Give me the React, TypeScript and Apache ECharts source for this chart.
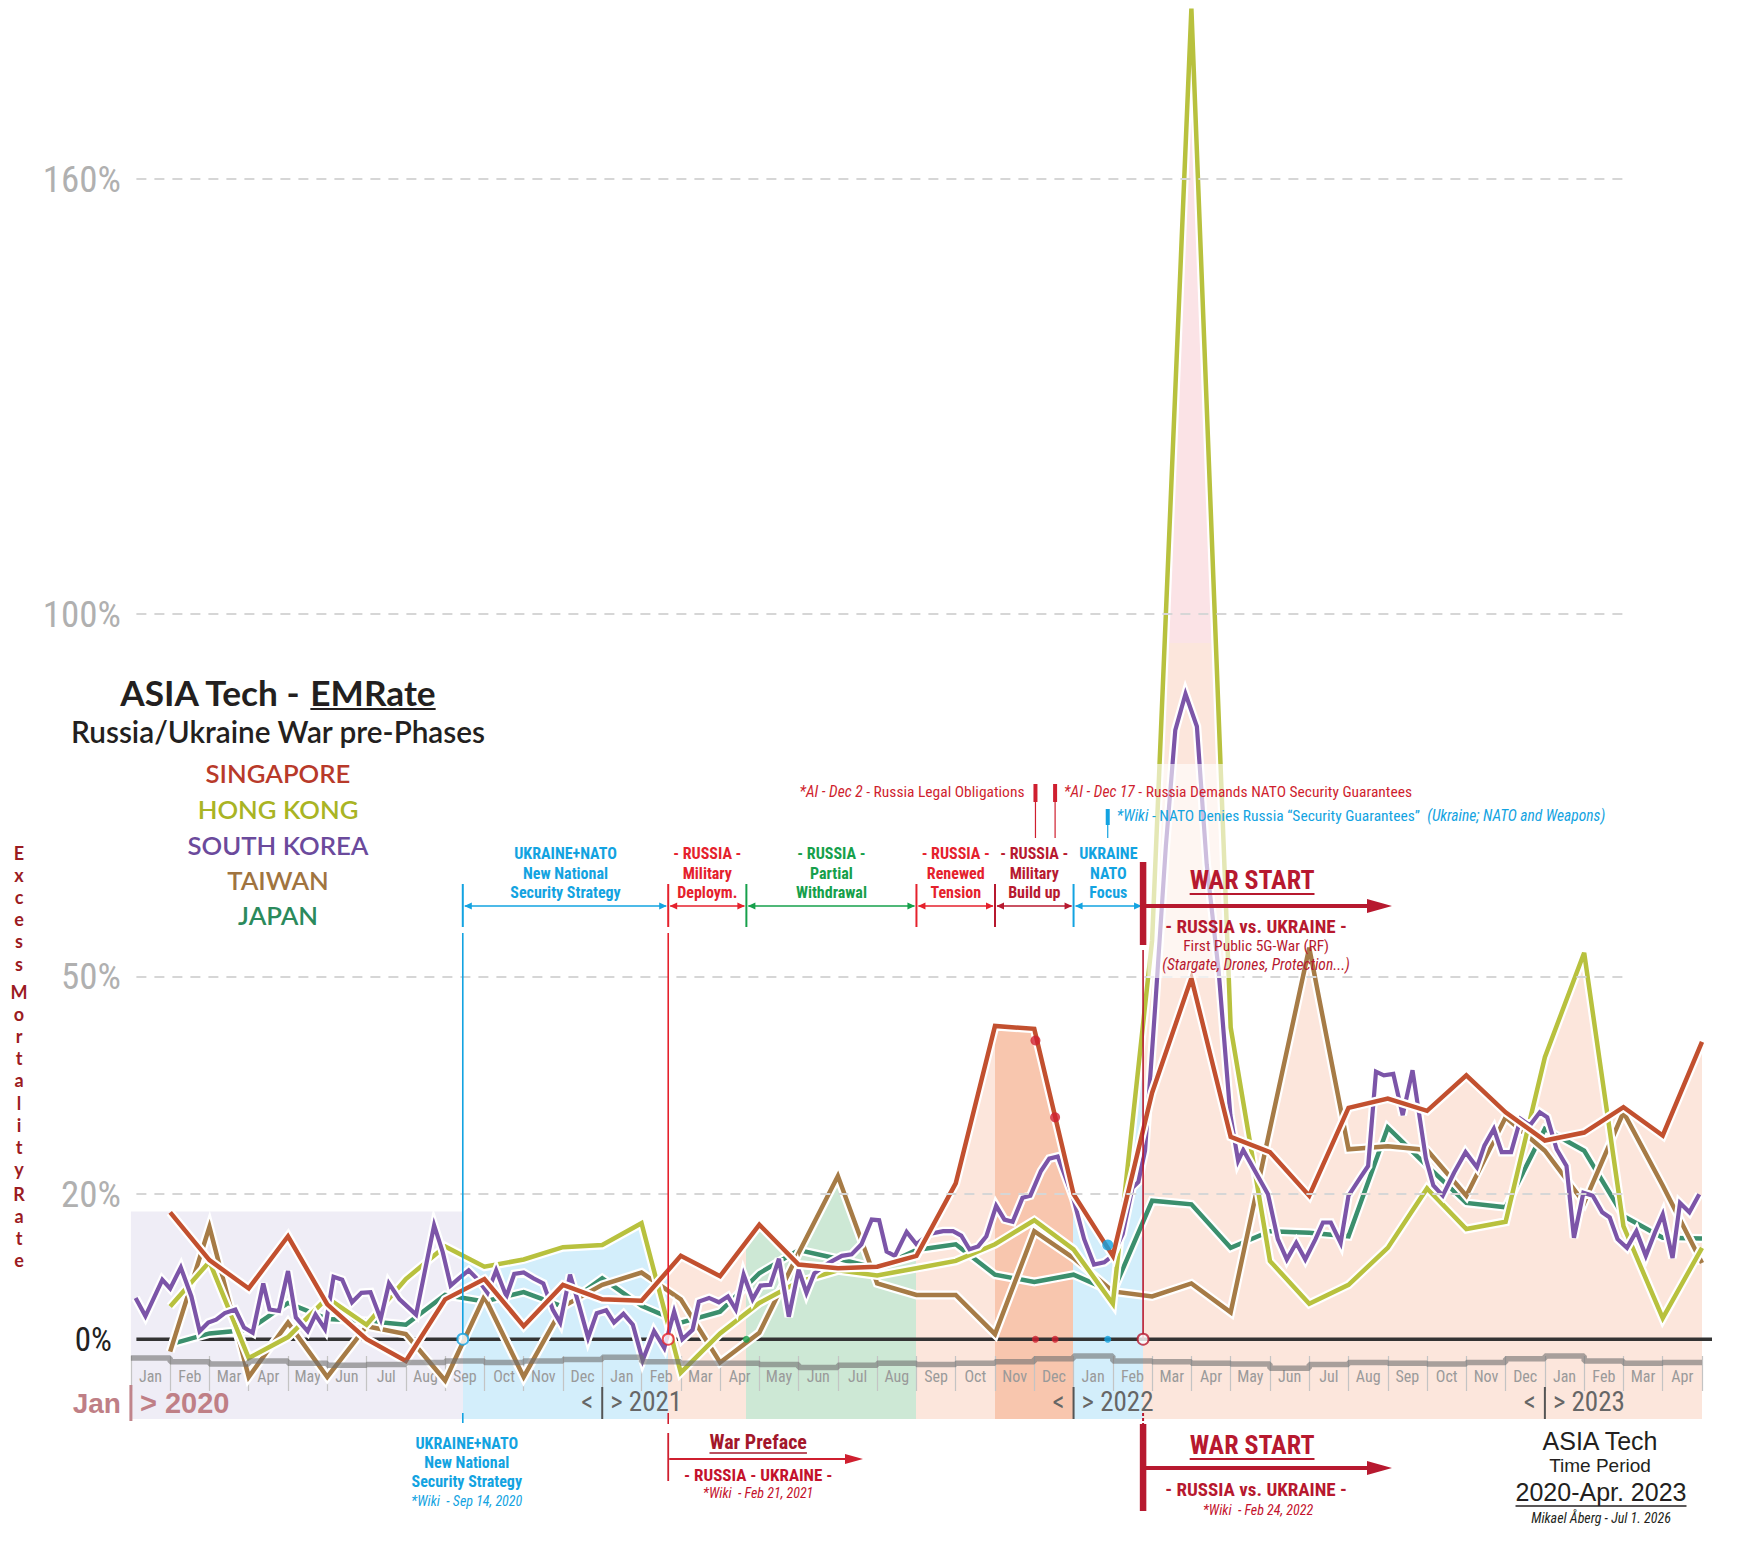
import React, { useEffect, useRef } from "react";
import * as echarts from "echarts";

const W = 1754;
const H = 1556;

// ---------------- data ----------------
const monthLabels = [
  "Jan", "Feb", "Mar", "Apr", "May", "Jun", "Jul", "Aug", "Sep", "Oct", "Nov", "Dec",
  "Jan", "Feb", "Mar", "Apr", "May", "Jun", "Jul", "Aug", "Sep", "Oct", "Nov", "Dec",
  "Jan", "Feb", "Mar", "Apr", "May", "Jun", "Jul", "Aug", "Sep", "Oct", "Nov", "Dec",
  "Jan", "Feb", "Mar", "Apr",
];
// month index (0 = 1 Jan 2020) of each monthly value
const monthIndex = [
  1, 2, 3, 4, 5, 6, 7, 8, 9, 10, 11, 12, 13, 14, 15, 16, 17, 18, 19, 20,
  21, 22, 23, 24, 25, 26, 27, 28, 29, 30, 31, 32, 33, 34, 35, 36, 37, 38, 39, 40,
];
const singapore = [
  17.5, 10.9, 7.0, 14.2, 4.8, 0, -3.0, 5.5, 8.3, 1.8, 7.5, 5.5, 5.3, 11.5, 8.7, 15.8, 10.3, 9.8, 10.0, 11.5,
  21.5, 43.2, 42.8, 20, 11.5, 34, 49.8, 27.9, 25.8, 19.8, 31.9, 33.2, 31.5, 36.4, 31.3, 27.4, 28.5, 32.0, 28.1, 41,
];
const hongKong = [
  4.5, 10.7, -2.6, 0.3, 5.7, 2, 8.3, 12.8, 10, 11, 12.7, 13, 16, -4.6, 0.8, 5, 7.9, 9.5, 8.8, 9.8,
  10.8, 13.1, 16.4, 12.4, 4.9, 55, 183.5, 43, 10.8, 4.9, 7.5, 12.6, 20.8, 15.2, 16.2, 38.9, 53.3, 15.6, 2.9, 12.6,
];
const taiwan = [
  -1.7, 15.5, -5.2, 2.3, -5.2, 1.8, 0.7, -5.7, 5.9, -5.2, 4.5, 7.5, 9.2, 5.5, -3.2, 0.9, 11.9, 22.5, 7.7, 6.1,
  6.1, 0.7, 14.9, 11.2, 6.6, 5.9, 7.7, 3.7, 29, 54, 26.2, 26.6, 26.1, 19.8, 30.6, 26, 18.8, 31.3, 21.2, 10.5,
];
const japan = [
  -0.7, 0.8, 1.3, 5.0, 2.8, 2.5, 2.0, 6.1, 5.2, 6.5, 4.5, 8.4, 4.6, 2.3, 3.8, 9.1, 12.3, 11.1, 9.8, 12.3,
  13.1, 8.9, 7.9, 8.9, 6.5, 19.1, 18.6, 12.6, 14.9, 14.7, 14.2, 29.2, 23.9, 18.8, 18.2, 29, 26, 17, 14, 13.9,
];
const southKoreaT = [
  0.12, 0.37, 0.8, 1.0, 1.27, 1.54, 1.75, 1.97, 2.17, 2.39,
  2.66, 2.88, 3.1, 3.37, 3.53, 3.77, 4.0, 4.2, 4.5, 4.7,
  4.94, 5.16, 5.38, 5.63, 5.87, 6.1, 6.36, 6.57, 6.84, 7.04,
  7.26, 7.72, 7.94, 8.14, 8.35, 8.6, 8.84, 9.08, 9.3, 9.56,
  9.76, 10.0, 10.25, 10.5, 10.74, 10.93, 11.18, 11.42, 11.64, 11.86,
  12.1, 12.3, 12.54, 12.78, 13.03, 13.32, 13.58, 13.83, 14.04, 14.3,
  14.46, 14.72, 14.97, 15.2, 15.4, 15.6, 15.83, 16.03, 16.28, 16.5,
  16.75, 17.0, 17.2, 17.4, 17.76, 18.1, 18.35, 18.6, 18.86, 19.05,
  19.24, 19.45, 19.75, 20.0, 20.3, 20.68, 20.93, 21.14, 21.35, 21.57,
  21.78, 22.03, 22.24, 22.45, 22.7, 22.9, 23.17, 23.38, 23.6, 24.0,
  24.27, 24.52, 24.78, 24.99, 25.25, 25.5, 25.65, 25.82, 26.08, 26.35,
  26.59, 26.85, 27.14, 27.39, 27.69, 27.99, 28.19, 28.32, 28.95,
  29.2, 29.43, 29.67, 29.9, 30.16, 30.35, 30.55, 30.8, 31.0, 31.3,
  31.5, 31.7, 31.9, 32.14, 32.38, 32.63, 32.97, 33.16, 33.4, 33.69,
  33.98, 34.27, 34.46, 34.7, 34.9, 35.14, 35.38, 35.62, 35.87, 36.06,
  36.3, 36.55, 36.74, 36.98, 37.22, 37.46, 37.65, 37.85, 38.09, 38.33,
  38.57, 38.8, 39.0, 39.25, 39.44, 39.68, 39.93,
];
const southKoreaV = [
  5.7, 3.2, 8.2, 7.0, 9.9, 5.9, 1.1, 2.3, 2.7, 3.6,
  4.1, 1.6, 0.9, 7.7, 4.1, 3.9, 9.4, 3.0, 1.1, 3.4,
  1.4, 8.6, 8.2, 5.1, 6.4, 6.5, 2.8, 7.7, 5.5, 4.5,
  3.4, 15.7, 12, 7.4, 8.4, 9.5, 8.2, 6.4, 9.5, 5.9,
  9, 9.2, 8.4, 7.7, 4.1, 2.3, 8.9, 4.5, 0.2, 3.6,
  4.0, 2.3, 3.5, 2.0, -2.9, 1.1, -1.2, 3.8, 0, 1.3,
  5.2, 5.7, 5.1, 5.9, 4.1, 8.9, 5.5, 7.4, 7.5, 11.1,
  3.1, 9.6, 6.4, 9.1, 10.5, 11.5, 11.7, 13.1, 16.5, 16.4,
  12.1, 11.5, 14.8, 13.1, 14.5, 14.9, 14.9, 14.3, 12.4, 12.8,
  14.2, 18.4, 16.5, 16.2, 19.5, 19.8, 23.2, 24.9, 25.2, 19.3,
  13.8, 10.3, 10.6, 11.5, 14.5, 20.9, 21.7, 26, 46, 68,
  84, 89, 84.5, 65.5, 51, 31, 24.6, 26.1, 20,
  13.8, 11, 13.3, 11, 13.8, 16.1, 16.1, 13.3, 19.8, 22.3,
  23.9, 36.9, 36.4, 36.6, 30.9, 37.1, 24.9, 21.2, 19.8, 23,
  25.8, 23.7, 26.7, 29, 25.8, 25.8, 30.4, 29.5, 31.3, 30.6,
  26.2, 23.9, 14, 20.2, 19.8, 17.5, 16.8, 13.8, 12.6, 14.9,
  11.5, 14.7, 17.2, 11.2, 18.8, 17.5, 20,
];
// grey step band below the zero line (one value per month cell)
const baselineSteps = [
  -2.6, -3.1, -3.4, -3.0, -3.3, -3.6, -3.5, -3.2, -3.0, -3.2, -3.0, -2.8,
  -2.5, -3.1, -3.3, -3.3, -3.5, -3.9, -3.6, -3.3, -3.5, -3.3, -3.1, -2.7,
  -2.3, -3.0, -3.1, -3.3, -3.4, -4.0, -3.5, -3.2, -3.3, -3.4, -3.2, -2.7,
  -2.3, -3.0, -3.3, -3.2,
];
const gridLevels = [20, 50, 100, 160];
const yLabelValues = [0, 20, 50, 100, 160];

// phases (month index)
const phaseBreaks = [0, 8.45, 13.68, 15.67, 20, 22, 24, 25.77, 40];
const phaseTitles = [
  ["UKRAINE+NATO", "New National", "Security Strategy"],
  ["- RUSSIA -", "Military", "Deploym."],
  ["- RUSSIA -", "Partial", "Withdrawal"],
  ["- RUSSIA -", "Renewed", "Tension"],
  ["- RUSSIA -", "Military", "Build up"],
  ["UKRAINE", "NATO", "Focus"],
];
const firstPhaseTop = 17.6;
const spikeCap = 96;
const tSep14 = 8.45;
const tFeb21 = 13.68;
const tApr20 = 15.67;
const tDec2 = 23.03;
const tDec17 = 23.53;
const tJan26 = 24.87;
const tFeb24 = 25.77;
const vDec2 = 41.2;
const vDec17 = 30.6;
const vJan26 = 13.0;
const yearStarts = [12, 24, 36];
const yearNames = ["> 2021", "> 2022", "> 2023"];

// ---------------- styles ----------------
const FONT_N = "'Liberation Sans Narrow','Roboto Condensed','DejaVu Sans Condensed',Lato,sans-serif";
const FONT_H = "Lato,'Open Sans','Noto Sans',sans-serif";
const FONT_A = "'Liberation Sans',Arial,Helvetica,sans-serif";
const BLUE = "#13a3e1";
const RED = "#e5212c";
const GREEN = "#16a04b";
const DARKRED = "#b7192f";
const NOTE_RED = "#cf1f2f";
const phaseFills = ["#efedf6", "#d3eefb", "#fce6dc", "#cde8d5", "#fce6dc", "#f8c6ae", "#d3eefb", "#fce6dc"];
const phaseColors = [BLUE, RED, GREEN, RED, DARKRED, BLUE];

const pairs = (xs: number[], ys: number[]) => xs.map((x, i) => [x, ys[i]]);

function buildOption() {
  const sg = pairs(monthIndex, singapore);
  const hk = pairs(monthIndex, hongKong);
  const tw = pairs(monthIndex, taiwan);
  const jp = pairs(monthIndex, japan);
  const kr = pairs(southKoreaT, southKoreaV);
  const base = baselineSteps.map((v, i) => [i, v]);
  base.push([40, baselineSteps[baselineSteps.length - 1]]);

  const pieces = phaseFills.map((c, i) =>
    i === phaseFills.length - 1
      ? { gte: phaseBreaks[i], lte: phaseBreaks[i + 1], color: c }
      : { gte: phaseBreaks[i], lt: phaseBreaks[i + 1], color: c }
  );

  const areaSeries = (data: number[][], extra: any = {}) => ({
    type: "line",
    data,
    z: 2,
    silent: true,
    symbol: "none",
    showSymbol: false,
    lineStyle: { width: 0 },
    areaStyle: { opacity: 1, origin: "start" },
    ...extra,
  });

  const lineDefs = [
    { data: jp, color: "#3b8f6d", width: 4.5 },
    { data: tw, color: "#a67b46", width: 4.5 },
    { data: hk, color: "#b8c13e", width: 4.5 },
    { data: kr, color: "#7c55a8", width: 4.2 },
    { data: sg, color: "#c2502f", width: 4.5 },
  ];
  const lineSeries: any[] = [];
  lineDefs.forEach((d) => {
    lineSeries.push({
      type: "line", data: d.data, z: 4, silent: true, symbol: "none", clip: false,
      lineStyle: { color: "#ffffff", width: d.width + 4.5, join: "miter" },
    });
    lineSeries.push({
      type: "line", data: d.data, z: 4, silent: true, symbol: "none", clip: false,
      lineStyle: { color: d.color, width: d.width, join: "miter" },
    });
  });

  const dot = (t: number, v: number, size: number, fill: string, stroke?: string) => ({
    value: [t, v],
    symbolSize: size,
    itemStyle: stroke
      ? { color: "#ffffff", borderColor: stroke, borderWidth: 2 }
      : { color: fill, borderWidth: 0 },
  });

  return {
    animation: false,
    backgroundColor: "#ffffff",
    grid: { left: 130.9, right: 52, top: 5, bottom: 137, containLabel: false },
    xAxis: [
      { type: "value", min: 0, max: 40, show: false, position: "top" },
      {
        type: "category",
        data: monthLabels,
        boundaryGap: true,
        position: "bottom",
        offset: -63,
        z: 3.8,
        axisLine: { show: false },
        axisTick: { show: true, interval: 0, length: 35, lineStyle: { color: "#c4c4c4", width: 1.2 } },
        axisLabel: { interval: 0, color: "#9a9a9a", fontSize: 16, fontFamily: FONT_N, margin: 12 },
        splitLine: { show: false },
      },
    ],
    yAxis: {
      type: "value",
      min: -11,
      max: 184,
      interval: 1,
      z: 3.8,
      axisLine: { show: false },
      axisTick: { show: false },
      splitLine: { show: false },
      axisLabel: {
        margin: 10,
        formatter: (v: number) => {
          if (v === 0) return "{z|0%}";
          if (yLabelValues.indexOf(v) >= 0) return "{g|" + v + "%}";
          return "";
        },
        rich: {
          g: { fontSize: 37, color: "#b0b0b0", fontFamily: FONT_N },
          z: { fontSize: 33, color: "#222222", fontFamily: FONT_N, padding: [0, 9, 0, 0] },
        },
      },
    },
    visualMap: [
      {
        type: "piecewise", show: false, dimension: 0, seriesIndex: [1, 2, 3, 4],
        pieces, outOfRange: { color: "rgba(0,0,0,0)" },
      },
      {
        type: "piecewise", show: false, dimension: 0, seriesIndex: [5],
        pieces: [{ gte: 26.32, lte: 27.62, color: "#fbe3e6" }],
        outOfRange: { color: "rgba(0,0,0,0)" },
      },
    ],
    series: [
      {
        type: "line", data: [[0, -11]], z: 1, silent: true, symbol: "none",
        lineStyle: { width: 0 },
        markLine: {
          silent: true, symbol: ["none", "none"], label: { show: false },
          lineStyle: { color: "#d6d6d6", type: [10, 8], width: 2 },
          data: gridLevels.map((v) => [{ coord: [0.14, v] }, { coord: [38.05, v] }]),
        },
      },
      areaSeries(sg, {
        markArea: {
          silent: true,
          itemStyle: { color: phaseFills[0], opacity: 1 },
          data: [[{ coord: [0, -11] }, { coord: [phaseBreaks[1], firstPhaseTop] }]],
        },
      }),
      areaSeries(hk),
      areaSeries(tw),
      areaSeries(jp),
      areaSeries(hk, { areaStyle: { opacity: 1, origin: spikeCap } }),
      {
        type: "line", step: "end", data: base, z: 4.5, silent: true, symbol: "none",
        lineStyle: { color: "#6f6f6f", width: 5.5, opacity: 0.6 },
      },
      ...lineSeries,
      {
        type: "scatter", z: 6, silent: true, symbol: "circle",
        data: [
          dot(tSep14, 0, 11, "#fff", BLUE),
          dot(tFeb21, 0, 11, "#fff", RED),
          dot(tFeb24, 0, 11, "#fff", DARKRED),
          dot(tApr20, 0, 7, GREEN),
          dot(tDec2, 0, 7, NOTE_RED),
          dot(tDec17, 0, 7, NOTE_RED),
          dot(tJan26, 0, 7, BLUE),
          dot(tDec2, vDec2, 10, NOTE_RED),
          dot(tDec17, vDec17, 10, NOTE_RED),
          dot(tJan26, vJan26, 11, BLUE),
        ],
      },
      // binds the month category axis
      { type: "line", xAxisIndex: 1, yAxisIndex: 0, data: [], silent: true, symbol: "none" },
    ],
  };
}

function buildGraphics(px: (t: number, v: number) => number[]) {
  const X = (t: number) => px(t, 0)[0];
  const Y = (v: number) => px(0, v)[1];
  const cvs = document.createElement("canvas");
  const c2d = cvs.getContext("2d")!;
  const measure = (s: string, size: number, family: string, weight = "normal", style = "normal") => {
    c2d.font = `${style} ${weight} ${size}px ${family}`;
    return c2d.measureText(s).width;
  };
  const els: any[] = [];
  const txt = (x: number, y: number, s: string, o: any) => {
    els.push({
      type: "text", x, y, z: o.z ?? 8, silent: true,
      style: {
        text: s,
        fill: o.color,
        fontSize: o.size,
        fontFamily: o.family,
        fontWeight: o.weight || "normal",
        fontStyle: o.style || "normal",
        align: o.align || "center",
        verticalAlign: "middle",
        rich: o.rich,
      },
    });
  };
  const ln = (x1: number, y1: number, x2: number, y2: number, color: string, w: number, z = 8, dash?: number[]) => {
    els.push({
      type: "line", z, silent: true,
      shape: { x1, y1, x2, y2 },
      style: { stroke: color, lineWidth: w, lineDash: dash || null },
    });
  };
  const poly = (pts: number[][], color: string, z = 8) => {
    els.push({ type: "polygon", z, silent: true, shape: { points: pts }, style: { fill: color } });
  };
  const underlined = (cx: number, y: number, s: string, o: any, uy: number, uw = 1.6) => {
    txt(cx, y, s, o);
    const w = measure(s, o.size, o.family, o.weight || "normal", o.style || "normal");
    ln(cx - w / 2, uy, cx + w / 2, uy, o.color, uw);
  };

  const y0 = Y(0);
  const yBandBottom = Y(-11);

  // zero line
  ln(X(0.14), y0, X(40) + 10, y0, "#333333", 3.5, 3.5);

  // fading veil behind the war annotations
  els.push({
    type: "rect", z: 7, silent: true,
    shape: { x: X(25.8) + 3, y: 764, width: X(28.3) - X(25.8) - 3, height: 214 },
    style: { fill: "rgba(255,255,255,0.62)" },
  });

  // ---- title block ----
  const tFull = "ASIA Tech - EMRate";
  const tSize = (34 * 315.5) / measure(tFull, 34, FONT_H, "bold");
  const wA = measure("ASIA Tech - ", tSize, FONT_H, "bold");
  const wB = measure("EMRate", tSize, FONT_H, "bold");
  const tx0 = 278 - (wA + wB) / 2;
  txt(tx0, 692, "ASIA Tech - ", { color: "#231f20", size: tSize, family: FONT_H, weight: "bold", align: "left" });
  txt(tx0 + wA, 692, "EMRate", { color: "#231f20", size: tSize, family: FONT_H, weight: "bold", align: "left" });
  ln(tx0 + wA, 709, tx0 + wA + wB, 709, "#231f20", 2);
  const sub = "Russia/Ukraine War pre-Phases";
  const sSize = (27 * 415) / measure(sub, 27, FONT_H, "600");
  txt(278, 731, sub, { color: "#231f20", size: sSize, family: FONT_H, weight: "600" });
  const legSize = (27 * 181) / measure("SOUTH KOREA", 27, FONT_H, "600");
  const legend = [
    ["SINGAPORE", "#b83a2a", 773],
    ["HONG KONG", "#a9b424", 809],
    ["SOUTH KOREA", "#6b4a9c", 845],
    ["TAIWAN", "#a07440", 880],
    ["JAPAN", "#2b8a5c", 915],
  ];
  legend.forEach(([s, c, y]) =>
    txt(278, y as number, s as string, { color: c, size: legSize, family: FONT_H, weight: "600" })
  );

  // vertical axis title
  const vt = (word: string, yTop: number) => {
    els.push({
      type: "text", x: 19, y: yTop, z: 8, silent: true,
      style: {
        text: word.split("").join("\n"), fill: "#9b1b22", fontSize: 18, fontFamily: FONT_H,
        fontWeight: "bold", align: "center", verticalAlign: "top", lineHeight: 22.1,
      },
    });
  };
  vt("Excess", 842);
  vt("Mortality", 981);
  vt("Rate", 1183);

  // ---- phase annotations (top) ----
  const rowY = [853, 873, 892];
  const arrowY = 906;
  for (let i = 0; i < phaseTitles.length; i++) {
    const x0 = X(phaseBreaks[i + 1]);
    const x1 = X(phaseBreaks[i + 2]);
    const c = phaseColors[i];
    const xm = (x0 + x1) / 2;
    phaseTitles[i].forEach((s, k) =>
      txt(xm, rowY[k], s, { color: c, size: 16, family: FONT_N, weight: "bold" })
    );
    ln(x0 + 2, arrowY, x1 - 2, arrowY, c, 1.3);
    poly([[x0 + 1.5, arrowY], [x0 + 9, arrowY - 3.5], [x0 + 9, arrowY + 3.5]], c);
    poly([[x1 - 1.5, arrowY], [x1 - 9, arrowY - 3.5], [x1 - 9, arrowY + 3.5]], c);
    ln(x0, 884, x0, 927, c, 2);
  }
  // long verticals down to zero
  ln(X(tSep14), 933, X(tSep14), y0, BLUE, 1.6, 5.5);
  ln(X(tFeb21), 933, X(tFeb21), y0, RED, 1.6, 5.5);
  ln(X(tFeb24), 950, X(tFeb24), y0, DARKRED, 1.6, 5.5);

  // WAR START (top)
  const xw = X(tFeb24);
  const xwc = xw + 109;
  ln(xw, 862, xw, 945, DARKRED, 6.5, 9);
  underlined(xwc, 880, "WAR START", { color: DARKRED, size: 26, family: FONT_N, weight: "bold" }, 894, 1.8);
  ln(xw + 2, arrowY, 1370, arrowY, DARKRED, 4, 9);
  poly([[1392, arrowY], [1367, arrowY - 7], [1367, arrowY + 7]], DARKRED, 9);
  txt(xwc + 4, 926, "- RUSSIA vs. UKRAINE -", { color: DARKRED, size: 19, family: FONT_N, weight: "bold" });
  txt(xwc + 4, 946, "First Public 5G-War (RF)", { color: DARKRED, size: 15.5, family: FONT_N });
  txt(xwc + 4, 965, "(Stargate, Drones, Protection...)", { color: DARKRED, size: 15.5, family: FONT_N, style: "italic" });

  // news notes
  const xd2 = X(tDec2);
  const xd17 = X(tDec17);
  const xj26 = X(tJan26);
  ln(xd2, 784, xd2, 802, NOTE_RED, 4);
  ln(xd2, 801, xd2, 838, NOTE_RED, 1.2);
  ln(xd17, 784, xd17, 802, NOTE_RED, 4);
  ln(xd17, 801, xd17, 838, NOTE_RED, 1.2);
  ln(xj26, 809, xj26, 825, BLUE, 4);
  ln(xj26, 824, xj26, 838, BLUE, 1.2);
  const noteRich = (c: string) => ({
    i: { fontStyle: "italic", fontSize: 15.5, fontFamily: FONT_N, fill: c },
    n: { fontStyle: "normal", fontSize: 15.5, fontFamily: FONT_N, fill: c },
  });
  txt(xd2 - 11, 792, "{i|*AI - Dec 2}{n| - Russia Legal Obligations}", {
    color: NOTE_RED, size: 15.5, family: FONT_N, align: "right", rich: noteRich(NOTE_RED),
  });
  txt(xd17 + 9, 792, "{i|*AI - Dec 17}{n| - Russia Demands NATO Security Guarantees}", {
    color: NOTE_RED, size: 15.5, family: FONT_N, align: "left", rich: noteRich(NOTE_RED),
  });
  txt(xj26 + 9, 816, "{i|*Wiki}{n| - NATO Denies Russia \u201cSecurity Guarantees\u201d  }{i|(Ukraine; NATO and Weapons)}", {
    color: BLUE, size: 15.5, family: FONT_N, align: "left", rich: noteRich(BLUE),
  });

  // ---- year labels ----
  const x0 = X(0);
  ln(x0, 1385, x0, yBandBottom + 2, "#c0848b", 3);
  txt(x0 - 10, 1403, "Jan", { color: "#bf7f86", size: 28, family: FONT_A, weight: "bold", align: "right" });
  txt(x0 + 9, 1403, "> 2020", { color: "#bf7f86", size: 29, family: FONT_A, weight: "bold", align: "left" });
  yearStarts.forEach((t, i) => {
    const xx = X(t);
    ln(xx, 1387, xx, yBandBottom, "#555555", 2);
    txt(xx - 9, 1402, "<", { color: "#666666", size: 27, family: FONT_N, align: "right" });
    txt(xx + 8, 1402, yearNames[i], { color: "#666666", size: 27, family: FONT_N, align: "left" });
  });

  // ---- bottom annotations ----
  const xs = X(tSep14);
  ln(xs, yBandBottom - 6, xs, yBandBottom + 4, BLUE, 1.6);
  const bl = ["UKRAINE+NATO", "New National", "Security Strategy"];
  bl.forEach((s, k) => txt(xs + 4, 1443 + k * 19.4, s, { color: BLUE, size: 16, family: FONT_N, weight: "bold" }));
  txt(xs + 4, 1501, "*Wiki  - Sep 14, 2020", { color: BLUE, size: 14, family: FONT_N, style: "italic" });

  const xf = X(tFeb21);
  ln(xf, yBandBottom - 6, xf, yBandBottom + 5, NOTE_RED, 1.6);
  ln(xf, 1433, xf, 1481, NOTE_RED, 1.8);
  underlined(xf + 90, 1442, "War Preface", { color: "#a3172a", size: 20, family: FONT_N, weight: "bold" }, 1453, 1.3);
  ln(xf + 1, 1459, 846, 1459, NOTE_RED, 1.8);
  poly([[863, 1459], [845, 1454], [845, 1464]], NOTE_RED);
  txt(xf + 90, 1475, "- RUSSIA - UKRAINE -", { color: "#c4122c", size: 17, family: FONT_N, weight: "bold" });
  txt(xf + 90, 1493, "*Wiki  - Feb 21, 2021", { color: "#c4122c", size: 14, family: FONT_N, style: "italic" });

  ln(xw, yBandBottom - 6, xw, yBandBottom + 5, DARKRED, 2, 8, [3, 2]);
  ln(xw, 1424, xw, 1511, DARKRED, 6.5);
  underlined(xwc, 1445, "WAR START", { color: DARKRED, size: 26, family: FONT_N, weight: "bold" }, 1459, 1.8);
  ln(xw + 2, 1468, 1370, 1468, DARKRED, 4);
  poly([[1392, 1468], [1367, 1461], [1367, 1475]], DARKRED);
  txt(xwc + 4, 1489, "- RUSSIA vs. UKRAINE -", { color: DARKRED, size: 19, family: FONT_N, weight: "bold" });
  txt(xwc + 6, 1510, "*Wiki  - Feb 24, 2022", { color: "#c4122c", size: 14, family: FONT_N, style: "italic" });

  // bottom-right credit
  txt(1600, 1441, "ASIA Tech", { color: "#231f20", size: 25, family: FONT_A });
  txt(1600, 1465, "Time Period", { color: "#231f20", size: 19, family: FONT_A });
  underlined(1601, 1492, "2020-Apr. 2023", { color: "#231f20", size: 25, family: FONT_A }, 1506, 1.6);
  txt(1601, 1518, "Mikael \u00c5berg - Jul 1. 2026", { color: "#231f20", size: 14, family: FONT_N, style: "italic" });

  return els;
}

export default function App() {
  const ref = useRef<HTMLDivElement>(null);
  useEffect(() => {
    document.body.style.margin = "0";
    const chart = echarts.init(ref.current as HTMLDivElement, null, { renderer: "svg" });
    chart.setOption(buildOption() as any);
    const px = (t: number, v: number) =>
      chart.convertToPixel({ xAxisIndex: 0, yAxisIndex: 0 } as any, [t, v]) as unknown as number[];
    chart.setOption({ graphic: { elements: buildGraphics(px) } } as any);
    return () => chart.dispose();
  }, []);
  return <div ref={ref} style={{ width: W, height: H }} />;
}
